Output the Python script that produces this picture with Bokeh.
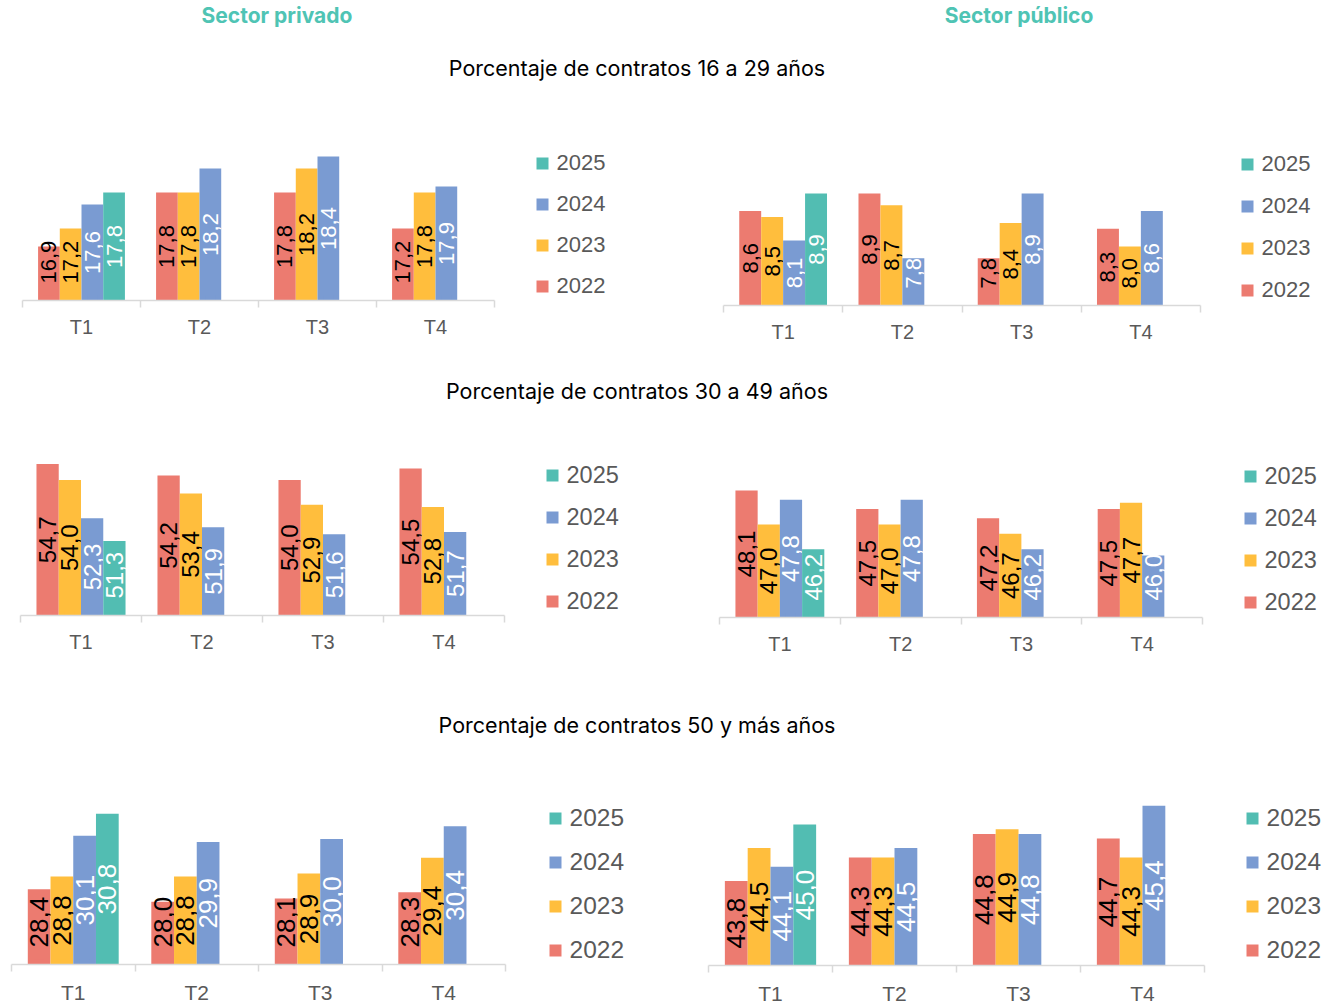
import math
from bokeh.plotting import figure
from bokeh.models import (ColumnDataSource, FixedTicker, Legend, LegendItem, Div, Range1d)
from bokeh.layouts import column, row
from bokeh.embed import file_html
from bokeh.resources import INLINE
from bokeh.core.properties import value

# ---------------- data ----------------
QUARTERS = ["T1", "T2", "T3", "T4"]
YEARS = ["2022", "2023", "2024", "2025"]
SECTORS = ["Sector privado", "Sector público"]
ROW_TITLES = ["Porcentaje de contratos 16 a 29 años",
              "Porcentaje de contratos 30 a 49 años",
              "Porcentaje de contratos 50 y más años"]

priv_16_29_2022 = [16.9, 17.8, 17.8, 17.2]
priv_16_29_2023 = [17.2, 17.8, 18.2, 17.8]
priv_16_29_2024 = [17.6, 18.2, 18.4, 17.9]
priv_16_29_2025 = [17.8, None, None, None]

pub_16_29_2022 = [8.6, 8.9, 7.8, 8.3]
pub_16_29_2023 = [8.5, 8.7, 8.4, 8.0]
pub_16_29_2024 = [8.1, 7.8, 8.9, 8.6]
pub_16_29_2025 = [8.9, None, None, None]

priv_30_49_2022 = [54.7, 54.2, 54.0, 54.5]
priv_30_49_2023 = [54.0, 53.4, 52.9, 52.8]
priv_30_49_2024 = [52.3, 51.9, 51.6, 51.7]
priv_30_49_2025 = [51.3, None, None, None]

pub_30_49_2022 = [48.1, 47.5, 47.2, 47.5]
pub_30_49_2023 = [47.0, 47.0, 46.7, 47.7]
pub_30_49_2024 = [47.8, 47.8, 46.2, 46.0]
pub_30_49_2025 = [46.2, None, None, None]

priv_50_2022 = [28.4, 28.0, 28.1, 28.3]
priv_50_2023 = [28.8, 28.8, 28.9, 29.4]
priv_50_2024 = [30.1, 29.9, 30.0, 30.4]
priv_50_2025 = [30.8, None, None, None]

pub_50_2022 = [43.8, 44.3, 44.8, 44.7]
pub_50_2023 = [44.5, 44.3, 44.9, 44.3]
pub_50_2024 = [44.1, 44.5, 44.8, 45.4]
pub_50_2025 = [45.0, None, None, None]

# ---------------- styling ----------------
COLORS = {"2022": "#EC7B70", "2023": "#FFBE3D", "2024": "#7A9BD2", "2025": "#52BDB2"}
LABEL_COLORS = {"2022": "#000000", "2023": "#000000", "2024": "#FFFFFF", "2025": "#FFFFFF"}
TEAL = "#4FC4B4"
GRAY = "#595959"
AXIS_GRAY = "#D9D9D9"
NUM_FONT = "Liberation Sans"
TITLE_FONT = "Inter"
BAR_W = 0.184
FIG_W = [667, 663]

ROWS = [(100, 360), (420, 690), (760, 1002)]
SPECS = [
    dict(c=0, fl=0,   r=0, x0=22,  x1=494,  base=300, ymin=16, ppu=60.0, lcx=544,  lcy=285.7, dy=41.3, fs=22, lfs=22,   tfs=20, st=8),
    dict(c=1, fl=667, r=0, x0=723, x1=1200, base=305, ymin=7,  ppu=59.0, lcx=1249, lcy=290.0, dy=41.7, fs=22, lfs=22,   tfs=20, st=8),
    dict(c=0, fl=0,   r=1, x0=20,  x1=504,  base=615, ymin=48, ppu=22.6, lcx=554,  lcy=601.0, dy=42.3, fs=24, lfs=23.5, tfs=20, st=8),
    dict(c=1, fl=667, r=1, x0=719, x1=1202, base=617, ymin=44, ppu=31.0, lcx=1252, lcy=602.0, dy=42.3, fs=24, lfs=23.5, tfs=20, st=8),
    dict(c=0, fl=0,   r=2, x0=11,  x1=505,  base=964, ymin=26, ppu=31.4, lcx=557,  lcy=950.0, dy=43.7, fs=26, lfs=24.5, tfs=21, st=9),
    dict(c=1, fl=667, r=2, x0=708, x1=1204, base=965, ymin=42, ppu=47.0, lcx=1254, lcy=950.0, dy=43.7, fs=26, lfs=24.5, tfs=21, st=9),
]

PANEL_DATA = [
    [priv_16_29_2022, priv_16_29_2023, priv_16_29_2024, priv_16_29_2025],
    [pub_16_29_2022, pub_16_29_2023, pub_16_29_2024, pub_16_29_2025],
    [priv_30_49_2022, priv_30_49_2023, priv_30_49_2024, priv_30_49_2025],
    [pub_30_49_2022, pub_30_49_2023, pub_30_49_2024, pub_30_49_2025],
    [priv_50_2022, priv_50_2023, priv_50_2024, priv_50_2025],
    [pub_50_2022, pub_50_2023, pub_50_2024, pub_50_2025],
]


def fmt(v):
    return f"{v:.1f}".replace(".", ",")


def make_panel(series, s):
    rt, rb = ROWS[s["r"]]
    nq = len(QUARTERS)
    top_pad, right_pad = 4, 4
    fw = s["fl"] + FIG_W[s["c"]] - s["x0"] - right_pad
    fh = s["base"] - (rt + top_pad)
    ymin = s["ymin"]
    ymax = ymin + fh / s["ppu"]
    xmax = nq * fw / (s["x1"] - s["x0"])
    p = figure(frame_width=fw, frame_height=fh,
               x_range=Range1d(0, xmax), y_range=Range1d(ymin, ymax),
               output_backend="svg", toolbar_location=None, title=None,
               y_axis_location=None,
               min_border_left=s["x0"] - s["fl"], min_border_right=right_pad,
               min_border_top=top_pad, min_border_bottom=rb - s["base"])
    p.outline_line_color = None
    p.xgrid.visible = False
    p.ygrid.visible = False
    p.background_fill_color = "white"
    p.border_fill_color = "white"

    ax = p.xaxis[0]
    centers = [i + 0.5 for i in range(nq)]
    ax.bounds = (0, nq)
    ax.ticker = FixedTicker(ticks=centers, minor_ticks=list(range(nq + 1)))
    ax.major_label_overrides = {c: q for c, q in zip(centers, QUARTERS)}
    ax.major_tick_line_color = None
    ax.major_tick_out = 0
    ax.major_tick_in = 0
    ax.minor_tick_line_color = AXIS_GRAY
    ax.minor_tick_line_width = 1.5
    ax.minor_tick_out = 7
    ax.minor_tick_in = 0
    ax.axis_line_color = AXIS_GRAY
    ax.axis_line_width = 1.5
    ax.major_label_text_font = NUM_FONT
    ax.major_label_text_font_size = f"{s['tfs']}px"
    ax.major_label_text_color = GRAY
    ax.major_label_standoff = s["st"]

    fs = s["fs"]
    legend_r = {}
    for j, (yr, vals) in enumerate(zip(YEARS, series)):
        xs, tops, bots, lx, ly, lt = [], [], [], [], [], []
        for i, v in enumerate(vals):
            if v is None:
                continue
            x = i + 0.5 + (j - 1.5) * BAR_W
            xs.append(x)
            tops.append(v)
            bots.append(ymin)
            t = fmt(v)
            L = fs * (0.556 * (len(t) - 1) + 0.278)
            mid = (ymin + v) / 2.0
            floor = ymin + (17 + L / 2.0) / s["ppu"]
            lx.append(x)
            ly.append(max(mid, floor))
            lt.append(t)
        src = ColumnDataSource(dict(x=xs, top=tops, bottom=bots))
        p.vbar(x="x", top="top", bottom="bottom", width=BAR_W, source=src,
               fill_color=COLORS[yr], line_color=None)
        # legend key proxy: same colour, hidden under the bar's own foot
        legend_r[yr] = p.scatter(x="x", y="bottom", source=src, marker="square", size=10,
                                 fill_color=COLORS[yr], line_color=None)
        lsrc = ColumnDataSource(dict(x=lx, y=ly, t=lt))
        p.text(x="x", y="y", text="t", source=lsrc, angle=math.pi / 2,
               text_align="center", text_baseline="middle",
               text_font=value(NUM_FONT), text_font_size=f"{fs}px",
               text_color=LABEL_COLORS[yr])

    items = [LegendItem(label=yr, renderers=[legend_r[yr]]) for yr in reversed(YEARS)]
    G = 30
    leg = Legend(items=items,
                 location=(s["lcx"] - G / 2 - 2.5 - s["x0"], s["base"] - (s["lcy"] + G / 2)),
                 orientation="vertical", glyph_width=G, glyph_height=G, label_height=G,
                 spacing=int(round(s["dy"] - G)), padding=0, margin=0,
                 label_standoff=0, border_line_color=None, background_fill_alpha=0,
                 label_text_font=NUM_FONT, label_text_font_size=f"{s['lfs']}px",
                 label_text_color=GRAY)
    p.add_layout(leg)
    return p


panels = [make_panel(d, s) for d, s in zip(PANEL_DATA, SPECS)]


def txt(x, y, t, size, color, weight="normal"):
    return (f'<div style="position:absolute;left:{x}px;top:{y}px;transform:translate(-50%,-50%);'
            f'white-space:nowrap;font-family:{TITLE_FONT};font-size:{size}px;font-weight:{weight};'
            f'color:{color};line-height:1.2;">{t}</div>')


def box(w, h, inner):
    return f'<div style="position:relative;width:{w}px;height:{h}px;">{inner}</div>'


W = sum(FIG_W)
header = Div(text=box(W, 100,
                      txt(277, 16, SECTORS[0], 21, TEAL, "bold") +
                      txt(1019, 16, SECTORS[1], 21, TEAL, "bold") +
                      txt(637, 69, ROW_TITLES[0], 21.5, "#000000")),
             width=W, height=100, margin=0)
div2 = Div(text=box(W, 60, txt(637, 32, ROW_TITLES[1], 21.5, "#000000")),
           width=W, height=60, margin=0)
div3 = Div(text=box(W, 70, txt(637, 36, ROW_TITLES[2], 21.5, "#000000")),
           width=W, height=70, margin=0)

layout = column(header,
                row(column(panels[0]), column(panels[1])), div2,
                row(column(panels[2]), column(panels[3])), div3,
                row(column(panels[4]), column(panels[5])))

open("out.html", "w").write(file_html(layout, INLINE))
